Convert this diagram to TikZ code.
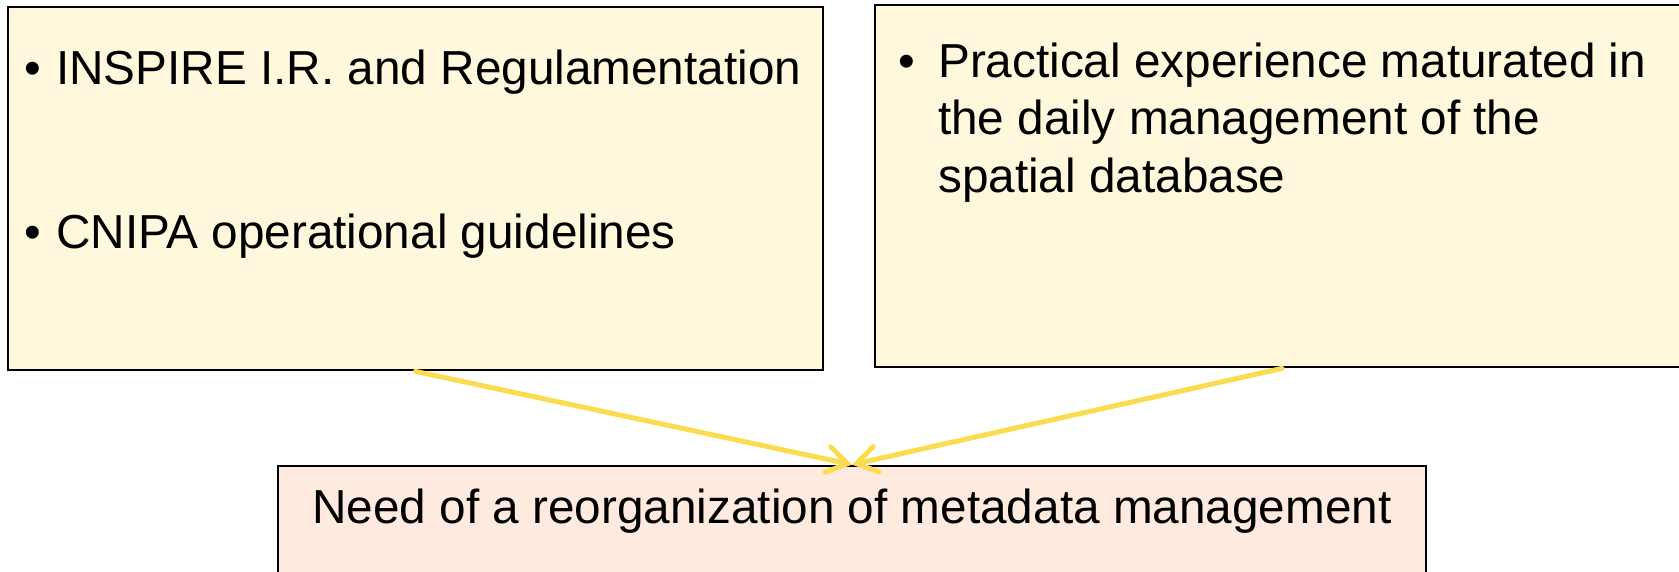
\documentclass[tikz,border=0pt]{standalone}
\usepackage{fontspec}
\setmainfont{Liberation Sans}
\usetikzlibrary{positioning,arrows.meta}
\definecolor{boxyellow}{RGB}{255,248,220}
\definecolor{boxpink}{RGB}{255,234,224}
\definecolor{arrowyellow}{RGB}{250,220,80}

\begin{document}
\begin{tikzpicture}[x=1pt,y=-1pt,
        font=\fontsize{47.7}{57.5}\selectfont,
        srcbox/.style={draw, line width=2.8pt, fill=boxyellow, inner sep=0pt},
        needbox/.style={draw, line width=2.8pt, fill=boxpink, inner sep=0pt},
        bul/.style={anchor=base, inner sep=0pt},
        txt/.style={anchor=base west, inner sep=0pt, align=left},
        link/.style={draw=arrowyellow, line width=5pt, line cap=round,
            -{Straight Barb[length=20pt,width=26pt,line cap=round]}}]
    \useasboundingbox (0,0) rectangle (1679,571);
    \clip (0,0) rectangle (1679,571);
    \node[srcbox, minimum width=815pt, minimum height=363pt] (norms) at (415.5,188.5) {};
    \node[srcbox, minimum width=814pt, minimum height=362pt] (practice) at (1282,186) {};
    \node[needbox, minimum width=1148pt, minimum height=154pt] (need) at (852,543) {};
    % left box
    \node[bul] (b1) at (33,84) {•};
    \node[txt] (t1) at (56,84) {INSPIRE I.R. and Regulamentation};
    \node[bul] (b2) at (33,248) {•};
    \node[txt] (t2) at (56,248) {CNIPA operational guidelines};
    % right box (base of a multi-line node is its last line)
    \node[bul] (b3) at (907,77) {•};
    \node[txt] (t3) at (938,192) {Practical experience maturated in\\the daily management of the\\spatial database};
    % bottom box
    \node[anchor=base, inner sep=0pt] (t4) at (852,523) {Need of a reorganization of metadata management};
    \draw[link] (norms.south) -- (need.north);
    \draw[link] (practice.south) -- (need.north);
\end{tikzpicture}
\end{document}
